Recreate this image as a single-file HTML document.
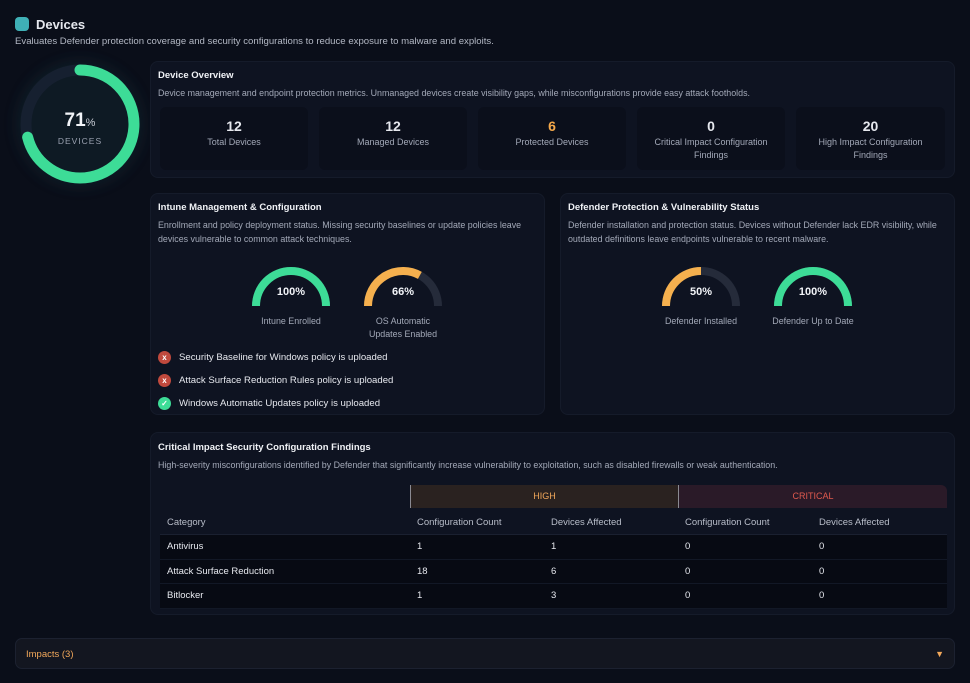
<!DOCTYPE html>
<html><head><meta charset="utf-8"><style>
*{box-sizing:border-box;margin:0;padding:0}
body{width:970px;height:683px;background:#0a0e19;font-family:"Liberation Sans",sans-serif;color:#e6e8ee;position:relative;overflow:hidden}
.abs{position:absolute}
.card{position:absolute;background:#0e1321;border:1px solid #151b2a;border-radius:8px}
.t{position:absolute;font-size:9.5px;font-weight:bold;color:#f0f2f6}
.d{position:absolute;font-size:8.9px;color:#a3a9b8;line-height:14px}
.stat{position:absolute;top:107px;height:63px;background:#0b0f1b;border-radius:6px;text-align:center}
.stat .n{font-size:14px;font-weight:bold;margin-top:11px}
.stat .l{font-size:9px;color:#a3a9b8;line-height:13px;margin-top:2px}
.gl{position:absolute;font-size:8.9px;color:#a3a9b8;text-align:center;width:120px;line-height:13px}
.pol{position:absolute;left:158px;font-size:9.6px;color:#e6e8ee;display:flex;align-items:center}
.pol i{display:inline-block;width:13px;height:13px;border-radius:50%;margin-right:8px;font-style:normal;font-size:8px;text-align:center;line-height:13px;color:#fff;font-weight:bold}
table{position:absolute;left:160px;top:510px;width:787px;border-collapse:collapse;font-size:9.5px}
td,th{height:24.5px;text-align:left;padding-left:7px;font-weight:normal}
th{color:#b8bdc9;border-bottom:1px solid #1a2030}
tbody tr{background:#070a13}
tbody td{border-bottom:1px solid #121826}
</style></head><body>
<div class="abs" style="left:15px;top:17px;width:14px;height:14px;background:#3fb0b6;border-radius:4px"></div>
<div class="abs" style="left:36px;top:17px;font-size:13px;font-weight:bold">Devices</div>
<div class="abs" style="left:15px;top:36px;font-size:9.6px;color:#b3b8c4">Evaluates Defender protection coverage and security configurations to reduce exposure to malware and exploits.</div>

<svg class="abs" style="left:0;top:44px" width="160" height="160">
<defs><filter id="g" x="-50%" y="-50%" width="200%" height="200%"><feGaussianBlur stdDeviation="6"/></filter></defs>
<circle cx="80" cy="80" r="64" fill="#12303a" opacity="0.35" filter="url(#g)"/>
<circle cx="80" cy="80" r="54" fill="none" stroke="#162030" stroke-width="11"/>
<circle id="donutArc" cx="80" cy="80" r="54" fill="none" stroke="#3ddc97" stroke-width="11" stroke-linecap="round" transform="rotate(-90 80 80)"/>
<text x="80" y="82" text-anchor="middle" font-size="19" font-weight="bold" fill="#f2f4f8" font-family="Liberation Sans">71<tspan font-size="11" font-weight="normal" fill="#c9cdd6">%</tspan></text>
<text x="80" y="100" text-anchor="middle" font-size="8.5" letter-spacing="1" fill="#9aa1b0" font-family="Liberation Sans">DEVICES</text>
</svg>

<div class="card" style="left:150px;top:61px;width:805px;height:117px"></div>
<div class="t" style="left:158px;top:70px">Device Overview</div>
<div class="d" style="left:158px;top:86px">Device management and endpoint protection metrics. Unmanaged devices create visibility gaps, while misconfigurations provide easy attack footholds.</div>
<div class="stat" style="left:160px;width:148px"><div class="n">12</div><div class="l">Total Devices</div></div>
<div class="stat" style="left:319px;width:148px"><div class="n">12</div><div class="l">Managed Devices</div></div>
<div class="stat" style="left:478px;width:148px"><div class="n" style="color:#f5a94a">6</div><div class="l">Protected Devices</div></div>
<div class="stat" style="left:637px;width:148px"><div class="n">0</div><div class="l">Critical Impact Configuration<br>Findings</div></div>
<div class="stat" style="left:796px;width:149px"><div class="n">20</div><div class="l">High Impact Configuration<br>Findings</div></div>

<div class="card" style="left:150px;top:193px;width:395px;height:222px"></div>
<div class="t" style="left:158px;top:202px">Intune Management &amp; Configuration</div>
<div class="d" style="left:158px;top:218px;width:380px">Enrollment and policy deployment status. Missing security baselines or update policies leave devices vulnerable to common attack techniques.</div>

<div class="card" style="left:560px;top:193px;width:395px;height:222px"></div>
<div class="t" style="left:568px;top:202px">Defender Protection &amp; Vulnerability Status</div>
<div class="d" style="left:568px;top:218px;width:380px">Defender installation and protection status. Devices without Defender lack EDR visibility, while outdated definitions leave endpoints vulnerable to recent malware.</div>

<svg id="gauges" class="abs" style="left:0;top:0" width="970" height="683"></svg>
<div class="gl" style="left:231px;top:315px">Intune Enrolled</div>
<div class="gl" style="left:343px;top:315px">OS Automatic<br>Updates Enabled</div>
<div class="gl" style="left:641px;top:315px">Defender Installed</div>
<div class="gl" style="left:753px;top:315px">Defender Up to Date</div>

<div class="pol" style="top:351px"><i style="background:#c0493d">x</i>Security Baseline for Windows policy is uploaded</div>
<div class="pol" style="top:374px"><i style="background:#c0493d">x</i>Attack Surface Reduction Rules policy is uploaded</div>
<div class="pol" style="top:397px"><i style="background:#3ddc97">✓</i>Windows Automatic Updates policy is uploaded</div>

<div class="card" style="left:150px;top:432px;width:805px;height:183px"></div>
<div class="t" style="left:158px;top:442px">Critical Impact Security Configuration Findings</div>
<div class="d" style="left:158px;top:458px">High-severity misconfigurations identified by Defender that significantly increase vulnerability to exploitation, such as disabled firewalls or weak authentication.</div>
<div class="abs" style="left:410px;top:485px;width:268px;height:23px;background:#2a2220;border-left:1.5px solid #8a8a92;color:#f2a85a;font-size:9px;text-align:center;line-height:23px">HIGH</div>
<div class="abs" style="left:678px;top:485px;width:269px;height:23px;background:#2a1a28;border-left:1.5px solid #8a8a92;border-top-right-radius:6px;color:#e05a4e;font-size:9px;text-align:center;line-height:23px">CRITICAL</div>
<table>
<thead><tr><th style="width:250px">Category</th><th style="width:134px">Configuration Count</th><th style="width:134px">Devices Affected</th><th style="width:134px">Configuration Count</th><th>Devices Affected</th></tr></thead>
<tbody id="tb"></tbody></table>

<div class="abs" style="left:15px;top:638px;width:940px;height:31px;background:#131620;border:1px solid #1c2130;border-radius:7px;font-size:9.5px;color:#f2a85a;padding:10px 10px">Impacts (3)<span style="position:absolute;right:10px;top:10px;font-size:9px">▼</span></div>

<script>
const donutValue = 71;
const gaugeNames = ["intune-enrolled","os-updates","defender-installed","defender-up-to-date"];
const gaugeValues = [100, 66, 50, 100];
const categories = ["Antivirus","Attack Surface Reduction","Bitlocker"];
const highConfig = [1, 18, 1];
const highDevices = [1, 6, 3];
const critConfig = [0, 0, 0];
const critDevices = [0, 0, 0];

const arc = document.getElementById('donutArc');
const C = 2*Math.PI*54;
arc.setAttribute('stroke-dasharray', (C*donutValue/100)+' '+C);

const ns = 'http://www.w3.org/2000/svg';
const svg = document.getElementById('gauges');
const gx = [291, 403, 701, 813], gy = 306, r = 35;
let gx0;
function pt(frac){const a=Math.PI*(1-frac);return [gx0+r*Math.cos(a), gy-r*Math.sin(a)];}
gaugeValues.forEach((v,i)=>{
  gx0 = gx[i];
  const [x0,y0]=pt(0),[x1,y1]=pt(1),[xv,yv]=pt(v/100);
  const bg=document.createElementNS(ns,'path');
  bg.setAttribute('d',`M${x0} ${y0} A${r} ${r} 0 0 1 ${x1} ${y1}`);
  bg.setAttribute('fill','none');bg.setAttribute('stroke','#252b3a');bg.setAttribute('stroke-width','8');
  
  
  svg.appendChild(bg);
  const col = v>=100 ? '#3ddc97' : '#f5b04e';
  const fg=document.createElementNS(ns,'path');
  fg.setAttribute('d',`M${x0} ${y0} A${r} ${r} 0 0 1 ${xv} ${yv}`);
  fg.setAttribute('fill','none');fg.setAttribute('stroke',col);fg.setAttribute('stroke-width','8');
  
  
  svg.appendChild(fg);
  const t=document.createElementNS(ns,'text');
  t.setAttribute('x',gx[i]);t.setAttribute('y',gy-11);t.setAttribute('text-anchor','middle');
  t.setAttribute('font-size','11');t.setAttribute('font-weight','bold');t.setAttribute('fill','#f2f4f8');
  t.setAttribute('font-family','Liberation Sans');
  t.textContent=v+'%';
  
  
  svg.appendChild(t);
});

const tb=document.getElementById('tb');
categories.forEach((c,i)=>{
  const tr=document.createElement('tr');
  
  
  [c,highConfig[i],highDevices[i],critConfig[i],critDevices[i]].forEach(v=>{
    const td=document.createElement('td');td.textContent=v;tr.appendChild(td);
  });
  tb.appendChild(tr);
});
</script>
</body></html>
